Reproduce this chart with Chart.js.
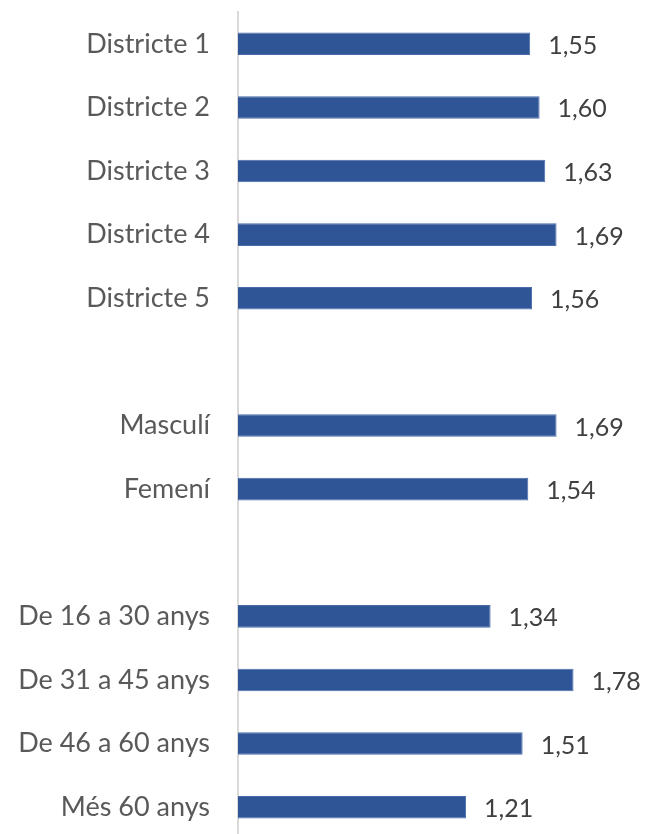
<!DOCTYPE html>
<html>
<head>
<meta charset="utf-8">
<script src="https://cdn.jsdelivr.net/npm/chart.js@4/dist/chart.umd.min.js"></script>
<style>
  html, body { margin: 0; padding: 0; background: #fff; overflow: hidden; }
  canvas { display: block; }
</style>
</head>
<body>
<canvas id="barChart" width="646" height="839"></canvas>
<script>
// categories (empty strings are the gaps between groups)
var categories = [
  'Districte 1', 'Districte 2', 'Districte 3', 'Districte 4', 'Districte 5',
  '',
  'Masculí', 'Femení',
  '',
  'De 16 a 30 anys', 'De 31 a 45 anys', 'De 46 a 60 anys', 'Més 60 anys'
];
var values = [1.55, 1.60, 1.63, 1.69, 1.56, null, 1.69, 1.54, null, 1.34, 1.78, 1.51, 1.21];

// writes the value just past the end of each bar
var valueLabels = {
  id: 'valueLabels',
  afterDatasetsDraw: function (chart) {
    var ctx = chart.ctx;
    var meta = chart.getDatasetMeta(0);
    ctx.save();
    ctx.font = '25px Lato';
    ctx.fillStyle = '#404040';
    ctx.textAlign = 'left';
    ctx.textBaseline = 'middle';
    meta.data.forEach(function (bar, i) {
      var v = values[i];
      if (v === null) return;
      ctx.fillText(v.toFixed(2).replace('.', ','), bar.x + 18, bar.y + 2);
    });
    ctx.restore();
  }
};

var ctx = document.getElementById('barChart');
new Chart(ctx, {
  type: 'bar',
  plugins: [valueLabels],
  data: {
    labels: categories,
    datasets: [{
      data: values,
      backgroundColor: '#2f5597',
      borderColor: '#4a6cab',
      borderWidth: 1,
      categoryPercentage: 1,
      barPercentage: 0.355
    }]
  },
  options: {
    indexAxis: 'y',
    responsive: false,
    animation: false,
    layout: { padding: { top: 12, right: 31, bottom: 0, left: 0 } },
    plugins: {
      legend: { display: false },
      tooltip: { enabled: false }
    },
    scales: {
      x: {
        display: false,
        min: 0,
        max: 2
      },
      y: {
        afterFit: function (scale) {
          scale.width = 238;
          scale.paddingTop = 0;
          scale.paddingBottom = 0;
        },
        grid: { display: false, drawTicks: false },
        border: { display: true, color: '#d9d9d9', width: 2 },
        ticks: {
          padding: 28,
          color: '#595959',
          font: { family: 'Lato', size: 27 }
        }
      }
    }
  }
});
</script>
</body>
</html>
